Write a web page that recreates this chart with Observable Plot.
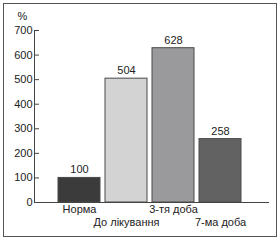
<!DOCTYPE html>
<html>
<head>
<meta charset="utf-8">
<script src="https://cdn.jsdelivr.net/npm/d3@7"></script>
<script src="https://cdn.jsdelivr.net/npm/@observablehq/plot@0.6"></script>
<style>
  html, body { margin: 0; padding: 0; background: #fff; }
  #wrap { position: relative; width: 280px; height: 240px; }
  #border { position: absolute; left: 3px; top: 3px; width: 272px; height: 232px; border: 1px solid #555; }
  #chart { position: absolute; left: 0; top: 0; }
</style>
</head>
<body>
<div id="wrap"><div id="border"></div><div id="chart"></div></div>
<script>
const categories = ["Норма", "До лікування", "3-тя доба", "7-ма доба"];
const values = [100, 504, 628, 258];
const yTicks = [0, 100, 200, 300, 400, 500, 600, 700];
const barColors = ["#3b3b3b", "#d3d3d3", "#9a9a9c", "#626262"];

const data = categories.map((c, i) => ({cat: c, value: values[i]}));
const upper = categories.filter((d, i) => i % 2 === 0);
const lower = categories.filter((d, i) => i % 2 === 1);

const chart = Plot.plot({
  width: 280,
  height: 240,
  marginLeft: 34,
  marginRight: 12,
  marginTop: 30,
  marginBottom: 38,
  style: {fontFamily: "Liberation Sans, Arial, sans-serif", fontSize: "11px", color: "#222", background: "transparent"},
  x: {domain: categories, range: [58, 242], paddingInner: 0.1, paddingOuter: 0},
  y: {domain: [0, 700]},
  color: {domain: categories, range: barColors},
  marks: [
    Plot.barY(data, {x: "cat", y: "value", fill: "cat", stroke: "#4a4a4a", strokeWidth: 1}),
    Plot.text(data, {x: "cat", y: "value", text: d => String(d.value), dy: -8, fill: "#222"}),
    Plot.frame({anchor: "left", stroke: "#444"}),
    Plot.frame({anchor: "bottom", stroke: "#444"}),
    Plot.axisY(yTicks, {tickSize: -5, tickPadding: 7, stroke: "#444", label: null, tickFormat: d => String(d)}),
    Plot.text(["%"], {frameAnchor: "top-left", textAnchor: "middle", lineAnchor: "middle", dx: -12, dy: -14, fill: "#222"}),
    Plot.axisX(upper, {tickSize: 0, tickPadding: 3, label: null}),
    Plot.axisX(lower, {tickSize: 0, tickPadding: 16, label: null})
  ]
});
document.getElementById("chart").appendChild(chart);
</script>
</body>
</html>
